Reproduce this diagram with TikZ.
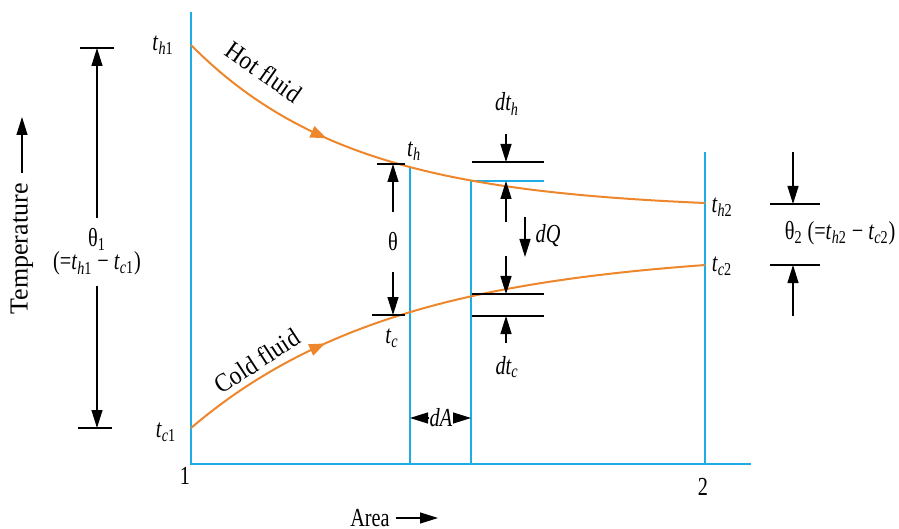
\documentclass[tikz,border=0pt]{standalone}
\usepackage{fontspec}
\setmainfont{Liberation Serif}
\usetikzlibrary{arrows.meta,decorations.markings}
\definecolor{hxblue}{RGB}{30,172,228}
\definecolor{hxorange}{RGB}{238,134,44}
\newcommand{\tv}[1]{\textit{t}\textsubscript{#1}}

\begin{document}
\begin{tikzpicture}[x=0.5pt,y=-0.5pt,
  axis/.style={draw=hxblue,line width=1pt},
  fluid/.style={draw=hxorange,line width=1pt,
    postaction={decorate,decoration={markings,
      mark=at position #1 with {\arrow{Triangle[length=8pt,width=6pt,fill=hxorange]}}}}},
  tick/.style={draw=black,line width=0.8pt},
  dim/.style={-{Triangle[length=9pt,width=5.5pt]},line width=0.6pt},
  lbl/.style={font=\fontsize{13}{11.5}\selectfont,inner sep=1pt,xscale=0.78,transform shape},
  sym/.style={lbl,font=\fontsize{13}{11.5}\selectfont\itshape},
  turned/.style={font=\fontsize{13}{11.5}\selectfont,inner sep=1pt,rotate=#1}]
\useasboundingbox (0,0) rectangle (899,529);
% axes and strip
\coordinate (O) at (191,464);
\coordinate (ytop) at (191,12);
\coordinate (xend) at (751,464);
\coordinate (p) at (410,166);
\coordinate (pb) at (410,464);
\coordinate (q) at (471,181);
\coordinate (qr) at (544,181);
\coordinate (qb) at (471,464);
\coordinate (r) at (705,152);
\coordinate (rb) at (705,464);
\draw[axis] (ytop) -- (O) -- (xend);
\draw[axis] (p) -- (pb);
\draw[axis] (qr) -- (q) -- (qb);
\draw[axis] (r) -- (rb);
% fluid curves
\draw[fluid=0.3,domain=191:705,samples=80]
  plot (\x,{210-165*exp(-0.00615*(\x-191))});
\draw[fluid=0.29,domain=191:705,samples=80]
  plot (\x,{250+178*exp(-0.00481*(\x-191))});
\node[turned=-35,xscale=0.9,transform shape] (hot) at (264,72) {Hot fluid};
\node[turned=33,xscale=0.9,transform shape] (cold) at (257,361) {Cold fluid};
% end labels
\node[lbl] (th1) at (163,45) {\tv{\textit{h}1}};
\node[lbl] (tc1) at (166,432) {\tv{\textit{c}1}};
\node[lbl] (th2) at (722,207) {\tv{\textit{h}2}};
\node[lbl] (tc2) at (722,266) {\tv{\textit{c}2}};
\node[lbl] (thx) at (414,151) {\tv{\textit{h}}};
\node[lbl] (tcx) at (392,338) {\tv{\textit{c}}};
\node[lbl] (one) at (185,476) {1};
\node[lbl] (two) at (703,487) {2};
% theta1
\coordinate (a1) at (80,48);
\coordinate (a2) at (114,48);
\coordinate (a3) at (78,428);
\coordinate (a4) at (112,428);
\draw[tick] (a1) -- (a2);
\draw[tick] (a3) -- (a4);
\node[lbl,align=center,inner sep=5pt] (th1lbl) at (97,252)
  {θ\textsubscript{1}\\(=\tv{\textit{h}1} − \tv{\textit{c}1})};
\draw[dim] (th1lbl.north) -- (97,48);
\draw[dim] (th1lbl.south) -- (97,428);
% theta
\coordinate (b1) at (377,164);
\coordinate (b2) at (405,164);
\coordinate (b3) at (372,315);
\coordinate (b4) at (405,315);
\draw[tick] (b1) -- (b2);
\draw[tick] (b3) -- (b4);
\node[lbl,inner sep=10pt] (thlbl) at (393,242) {θ};
\draw[dim] (thlbl.north) -- (393,164);
\draw[dim] (thlbl.south) -- (393,315);
% element dA
\coordinate (c1) at (472,162);
\coordinate (c2) at (544,162);
\coordinate (c3) at (472,294);
\coordinate (c4) at (544,294);
\coordinate (c5) at (472,316);
\coordinate (c6) at (544,316);
\draw[tick] (c1) -- (c2);
\draw[tick] (c3) -- (c4);
\draw[tick] (c5) -- (c6);
\node[sym] (dth) at (507,104) {d\tv{\textit{h}}};
\node[sym] (dtc) at (507,367) {d\tv{\textit{c}}};
\coordinate (d1) at (506,134);
\coordinate (d2) at (506,222);
\coordinate (d3) at (506,256);
\coordinate (d4) at (506,343);
\draw[dim] (d1) -- (c1 -| d1);
\draw[dim] (d2) -- (q -| d2);
\draw[dim] (d3) -- (c3 -| d3);
\draw[dim] (d4) -- (c5 -| d4);
\coordinate (e1) at (525,217);
\coordinate (e2) at (525,257);
\draw[dim] (e1) -- (e2);
\node[sym] (dq) at (548,236) {dQ};
\node[sym,inner sep=0pt] (da) at (441,418) {dA};
\draw[dim] (da) -- (da -| p);
\draw[dim] (da) -- (da -| q);
% theta2
\coordinate (f1) at (770,204);
\coordinate (f2) at (820,204);
\coordinate (f3) at (770,265);
\coordinate (f4) at (820,265);
\draw[tick] (f1) -- (f2);
\draw[tick] (f3) -- (f4);
\coordinate (g1) at (793,152);
\coordinate (g2) at (793,316);
\draw[dim] (g1) -- (f1 -| g1);
\draw[dim] (g2) -- (f3 -| g2);
\node[lbl,anchor=west] (th2lbl) at (783,233)
  {θ\textsubscript{2} (=\tv{\textit{h}2} − \tv{\textit{c}2})};
% axis titles
\node[turned=90] (temp) at (22,249) {Temperature};
\coordinate (tempend) at (22,117);
\draw[dim,shorten <=4pt] (temp) -- (tempend);
\node[lbl] (area) at (370,518) {Area};
\coordinate (areaend) at (438,518);
\draw[dim,shorten <=2pt] (area) -- (areaend);
\end{tikzpicture}
\end{document}
